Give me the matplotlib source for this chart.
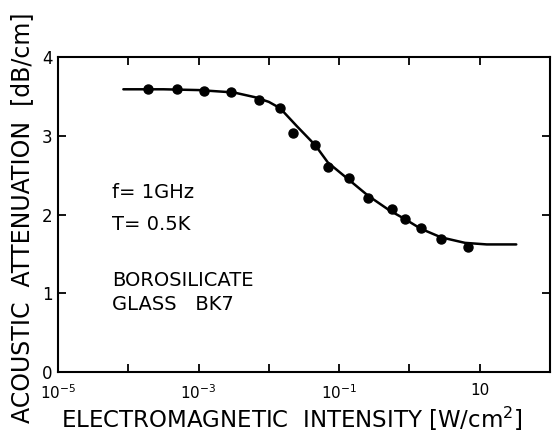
import numpy as np
import matplotlib
matplotlib.use("Agg")
import matplotlib.pyplot as plt

# data
intensity_log = [-3.715, -3.303, -2.923, -2.543, -2.136, -1.842, -1.652, -1.344,
                 -1.155, -0.856, -0.585, -0.253, -0.063, 0.160, 0.445, 0.837]
attenuation = [3.59, 3.59, 3.57, 3.56, 3.46, 3.35, 3.04, 2.88,
               2.60, 2.46, 2.21, 2.07, 1.94, 1.83, 1.69, 1.59]

curve_log = [-4.07, -3.5, -3.0, -2.5, -2.2, -2.0, -1.84, -1.6, -1.34, -1.16,
             -0.86, -0.59, -0.28, -0.06, 0.16, 0.45, 0.79, 1.1, 1.52]
curve_att = [3.59, 3.59, 3.58, 3.55, 3.49, 3.43, 3.35, 3.12, 2.88, 2.66,
             2.44, 2.24, 2.05, 1.94, 1.82, 1.71, 1.64, 1.62, 1.62]

xtick_exp = [-5, -4, -3, -2, -1, 0, 1, 2]
xtick_labels = [r'$10^{-5}$', '', r'$10^{-3}$', '', r'$10^{-1}$', '', '10', '']
ytick_vals = [0, 1, 2, 3, 4]

plt.rcParams['font.family'] = ['DejaVu Sans']
fig = plt.figure(figsize=(5.53, 4.45), dpi=100)
ax = fig.add_axes([58/553, 1-372/445, (550-58)/553, (372-57)/445])

x_pts = [10**v for v in intensity_log]
x_cur = [10**v for v in curve_log]
ax.plot(x_cur, curve_att, color='black', lw=1.8, solid_capstyle='round')
ax.plot(x_pts, attenuation, 'o', color='black', ms=6.5)

ax.set_xscale('log')
ax.set_xlim(1e-5, 1e2)
ax.set_ylim(0, 4)
ax.set_xticks([10**e for e in xtick_exp])
ax.set_xticklabels(xtick_labels)
ax.minorticks_off()
ax.set_yticks(ytick_vals)
ax.set_yticklabels([str(v) for v in ytick_vals])
for s in ax.spines.values():
    s.set_linewidth(1.5)
ax.tick_params(direction='in', length=6, width=1.3, top=True, right=True,
               labelsize=11, colors='black')
ax.tick_params(axis='x', pad=8)
ax.tick_params(axis='y', pad=4, labelsize=12)

kw = dict(fontsize=14, va='center', ha='left')
fig.text(112/553, 1-193/445, 'f= 1GHz', **kw)
fig.text(112/553, 1-225/445, 'T= 0.5K', **kw)
fig.text(112/553, 1-280/445, 'BOROSILICATE', **kw)
fig.text(112/553, 1-305/445, 'GLASS   BK7', **kw)

fig.text(22/553, 1-218/445, 'ACOUSTIC  ATTENUATION  [dB/cm]', rotation=90,
         fontsize=17, ha='center', va='center')
fig.text(61/553, 1-419/445, r'ELECTROMAGNETIC  INTENSITY [W/cm$^2$]',
         fontsize=16.5, ha='left', va='center')

fig.savefig('out.png', dpi=100)
